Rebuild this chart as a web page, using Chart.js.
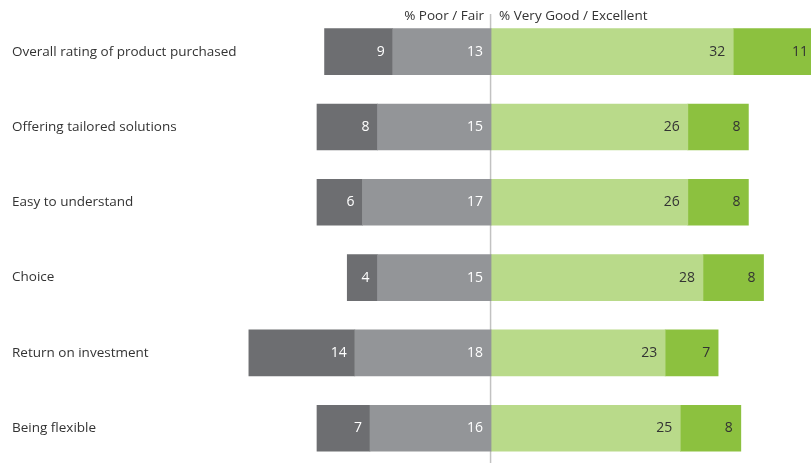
<!DOCTYPE html>
<html>
<head>
<meta charset="utf-8">
<script src="https://cdn.jsdelivr.net/npm/chart.js@4"></script>
<style>
  html, body { margin: 0; padding: 0; overflow: hidden; background: #fff; }
  canvas { display: block; }
</style>
</head>
<body>
<canvas id="ratingChart" width="811" height="477"></canvas>
<script>
const categories = ['Overall rating of product purchased', 'Offering tailored solutions', 'Easy to understand', 'Choice', 'Return on investment', 'Being flexible'];
const poor = [9, 8, 6, 4, 14, 7];
const fair = [13, 15, 17, 15, 18, 16];
const veryGood = [32, 26, 26, 28, 23, 25];
const excellent = [11, 8, 8, 8, 7, 8];

const FONT = '"Open Sans", "Noto Sans", sans-serif';

// header captions + centre line
const headerPlugin = {
    id: 'header',
    beforeDatasetsDraw(chart) {
        const ctx = chart.ctx;
        const x0 = chart.scales.x.getPixelForValue(0);
        ctx.save();
        ctx.strokeStyle = '#c2c2c2';
        ctx.lineWidth = 1.5;
        ctx.beginPath();
        ctx.moveTo(x0 - 0.5, 14);
        ctx.lineTo(x0 - 0.5, chart.height);
        ctx.stroke();
        ctx.font = '13.5px ' + FONT;
        ctx.fillStyle = '#333';
        ctx.textBaseline = 'middle';
        ctx.textAlign = 'right';
        ctx.fillText('% Poor / Fair', x0 - 7, 16);
        ctx.textAlign = 'left';
        ctx.fillText('% Very Good / Excellent', x0 + 8, 16);
        ctx.restore();
    }
};

// value labels inside the right end of each segment
const valueLabels = {
    id: 'valueLabels',
    afterDatasetsDraw(chart) {
        const ctx = chart.ctx;
        ctx.save();
        ctx.font = '14px ' + FONT;
        ctx.textAlign = 'right';
        ctx.textBaseline = 'middle';
        chart.data.datasets.forEach((ds, i) => {
            chart.getDatasetMeta(i).data.forEach((bar, j) => {
                const right = Math.min(Math.max(bar.x, bar.base), chart.chartArea.right + 5);
                ctx.fillStyle = ds.labelColor;
                ctx.fillText(Math.abs(ds.data[j]), right - 8, bar.y);
            });
        });
        ctx.restore();
    }
};

new Chart(document.getElementById('ratingChart').getContext('2d'), {
    type: 'bar',
    data: {
        labels: categories,
        datasets: [
            { label: 'Fair', data: fair.map(v => -v), backgroundColor: '#939598', labelColor: '#fff' },
            { label: 'Poor', data: poor.map(v => -v), backgroundColor: '#6d6e71', labelColor: '#fff' },
            { label: 'Very Good', data: veryGood, backgroundColor: '#b9da8a', labelColor: '#333' },
            { label: 'Excellent', data: excellent, backgroundColor: '#8cc13f', labelColor: '#333' }
        ]
    },
    options: {
        indexAxis: 'y',
        responsive: false,
        animation: false,
        layout: { padding: { left: 12, top: 14, right: 0, bottom: 0 } },
        datasets: { bar: { barThickness: 46, borderWidth: 0 } },
        plugins: {
            legend: { display: false },
            tooltip: { enabled: false }
        },
        scales: {
            x: {
                stacked: true,
                min: -33.7,
                max: 42.27,
                display: false
            },
            y: {
                stacked: true,
                grid: { display: false },
                border: { display: false },
                afterFit(scale) { scale.width = 224; },
                ticks: {
                    crossAlign: 'far',
                    color: '#333',
                    font: { family: FONT, size: 13.5 }
                }
            }
        }
    },
    plugins: [headerPlugin, valueLabels]
});
</script>
</body>
</html>
